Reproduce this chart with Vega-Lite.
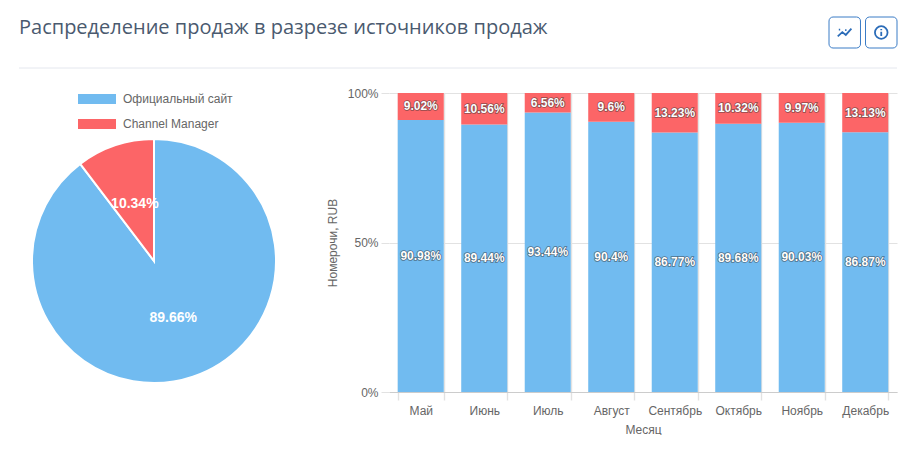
{
"$schema":"https://vega.github.io/schema/vega-lite/v6.json",
"padding":{"left":18,"top":0,"right":19,"bottom":0},
"background":"white",
"bounds":"flush",
"spacing":25,
"config":{"view":{"stroke":null},"font":"Liberation Sans"},
"datasets":{
"pie":[{"source":"Официальный сайт","share":0.8966},{"source":"Channel Manager","share":0.1034}],
"months":[
{"month":"Май","source":"Официальный сайт","share":0.9098},{"month":"Май","source":"Channel Manager","share":0.0902},
{"month":"Июнь","source":"Официальный сайт","share":0.8944},{"month":"Июнь","source":"Channel Manager","share":0.1056},
{"month":"Июль","source":"Официальный сайт","share":0.9344},{"month":"Июль","source":"Channel Manager","share":0.0656},
{"month":"Август","source":"Официальный сайт","share":0.904},{"month":"Август","source":"Channel Manager","share":0.096},
{"month":"Сентябрь","source":"Официальный сайт","share":0.8677},{"month":"Сентябрь","source":"Channel Manager","share":0.1323},
{"month":"Октябрь","source":"Официальный сайт","share":0.8968},{"month":"Октябрь","source":"Channel Manager","share":0.1032},
{"month":"Ноябрь","source":"Официальный сайт","share":0.9003},{"month":"Ноябрь","source":"Channel Manager","share":0.0997},
{"month":"Декабрь","source":"Официальный сайт","share":0.8687},{"month":"Декабрь","source":"Channel Manager","share":0.1313}
],
"buttons":[{"button":"trend"},{"button":"info"}]
},
"vconcat":[
{
"width":878,"height":68,
"title":{"text":"Распределение продаж в разрезе источников продаж","anchor":"start","frame":"group","offset":-38,"font":"Open Sans","fontSize":20,"fontWeight":"normal","color":"#4a5a6f"},
"data":{"name":"buttons"},
"encoding":{
"x":{"field":"button","type":"nominal","sort":["trend","info"],"axis":null,"scale":{"type":"band","range":[810,878],"paddingInner":0.137,"paddingOuter":0}},
"y":{"datum":"btn","type":"nominal","axis":null,"scale":{"type":"band","domain":["btn"],"range":[17,48],"padding":0}}
},
"layer":[
{"mark":{"type":"rect","fill":"white","stroke":"#3b7cc6","strokeWidth":1,"cornerRadius":4}},
{"mark":{"type":"point","filled":false,"stroke":"#2b6cb8","strokeWidth":1.8,"size":196,"opacity":1},
"encoding":{"shape":{"field":"button","type":"nominal","legend":null,"scale":{"domain":["trend","info"],"range":["M-1,0.55L-0.35,-0.05L0.15,0.35L0.95,-0.55M-0.85,-0.4L-0.65,-0.4M0.05,-0.35L0.25,-0.35","M0.9,0A0.9,0.9,0,1,1,-0.9,0A0.9,0.9,0,1,1,0.9,0ZM0,-0.1L0,0.5M0,-0.5L0,-0.33"]}}}},
{"data":{"values":[{}]},"mark":{"type":"rule","stroke":"#e4e7ee","strokeWidth":1},"encoding":{"x":{"value":0},"x2":{"value":878},"y":{"value":68}}}
]
},
{
"hconcat":[
{
"width":270,"height":336,
"data":{"name":"pie"},
"encoding":{
"theta":{"field":"share","type":"quantitative","stack":"zero","scale":{"domain":[0,1],"reverse":true}}
},
"layer":[
{"mark":{"type":"arc","outerRadius":122,"stroke":"white","strokeWidth":2},
"encoding":{"color":{"field":"source","type":"nominal","title":null,
"scale":{"domain":["Официальный сайт","Channel Manager"],"range":["#71bbf0","#fc6567"]},
"legend":{"orient":"none","legendX":59,"legendY":80,"symbolType":"M-1,-0.26H1V0.26H-1Z","symbolSize":1444,"symbolStrokeWidth":0,"rowPadding":-24,"labelFontSize":12,"labelColor":"#666666","labelOffset":7,"labelFont":"Liberation Sans"}}}},
{"mark":{"type":"text","radius":60,"font":"Liberation Sans","fontSize":14,"fontWeight":"bold","fill":"white"},
"encoding":{"detail":{"field":"source"},"text":{"field":"share","type":"quantitative","format":".2~%"}}}
]
},
{
"width":508,"height":299,
"data":{"name":"months"},
"encoding":{
"x":{"field":"month","type":"nominal","sort":["Май","Июнь","Июль","Август","Сентябрь","Октябрь","Ноябрь","Декабрь"],"title":"Месяц",
"scale":{"paddingInner":0.275,"paddingOuter":0.1375},
"axis":{"labelAngle":0,"tickBand":"extent","grid":true,"gridColor":"#e2e2e2","gridWidth":1.4,"tickColor":"#e2e2e2","tickWidth":1.4,"tickSize":8,"domainColor":"#cccccc","labelFontSize":12,"labelColor":"#666666","titleFontSize":12,"titleColor":"#666666","titleFontWeight":"normal","labelPadding":5,"titlePadding":8}},
"y":{"field":"share","type":"quantitative","stack":"zero","title":"Номерочи, RUB","scale":{"domain":[0,1]},
"axis":{"values":[0,0.5,1],"format":".0%","grid":true,"gridColor":"#e2e2e2","tickColor":"#e2e2e2","tickSize":8,"domain":false,"labelFontSize":12,"labelColor":"#666666","titleFontSize":12,"titleColor":"#666666","titleFontWeight":"normal","labelPadding":3,"titlePadding":8}}
},
"layer":[
{"mark":{"type":"bar"},"encoding":{"color":{"field":"source","type":"nominal","legend":null,"scale":{"domain":["Официальный сайт","Channel Manager"],"range":["#71bbf0","#fc6567"]}}}},
{"mark":{"type":"text","font":"Liberation Sans","fontSize":12,"fontWeight":"bold","fill":"#333333","stroke":"#333333","strokeWidth":1.6,"strokeOpacity":0.55,"fillOpacity":0.55},
"encoding":{"detail":{"field":"source"},"y":{"field":"share","type":"quantitative","stack":"zero","bandPosition":0.5},"text":{"field":"share","type":"quantitative","format":".2~%"}}},
{"mark":{"type":"text","font":"Liberation Sans","fontSize":12,"fontWeight":"bold","fill":"white"},
"encoding":{"detail":{"field":"source"},"y":{"field":"share","type":"quantitative","stack":"zero","bandPosition":0.5},"text":{"field":"share","type":"quantitative","format":".2~%"}}}
]
}
],
"spacing":100,
"bounds":"flush"
}
]
}
